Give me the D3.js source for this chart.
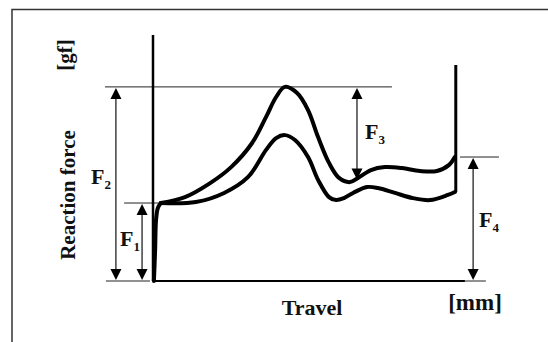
<!DOCTYPE html>
<html>
<head>
<meta charset="utf-8">
<script src="https://cdn.jsdelivr.net/npm/d3@7"></script>
<style>
  body { margin: 0; background: #fff; }
  svg text { font-family: "Liberation Serif", "Times New Roman", serif; fill: #111; }
</style>
</head>
<body>
<div id="graphsvg"></div>
<script>
// travel in % of full stroke, force in % of axis height (schematic, no ticks)
var travel_rise = [0.3, 0.7, 1.0, 1.6, 2.6];
var force_rise = [0, 12.6, 24.8, 29.7, 31.7];

var travel_press = [2.6, 10.5, 18.8, 25.7, 32.6, 37.2, 40.5, 43.4, 47.4, 51.0, 54.3, 57.9, 61.2, 64.8, 67.4, 71.7, 76.3, 81.9, 87.8, 93.4, 97.4, 99.3];
var force_press = [31.7, 34.1, 39.8, 46.3, 56.1, 66.7, 74.8, 78.9, 76.4, 69.5, 58.5, 48.0, 41.9, 40.2, 41.9, 45.1, 46.3, 45.9, 44.7, 44.7, 47.2, 50.4];

var travel_return = [2.6, 14.1, 23.4, 31.3, 37.2, 40.5, 43.4, 46.7, 51.0, 54.3, 57.9, 60.2, 62.8, 65.8, 70.4, 74.0, 79.6, 85.5, 91.1, 97.0, 99.3];
var force_return = [31.7, 32.1, 35.8, 42.3, 53.3, 58.1, 59.3, 57.3, 50.4, 41.1, 34.1, 32.9, 33.7, 35.8, 38.2, 37.8, 35.8, 33.7, 32.9, 35.0, 36.2];

// F1..F4 annotations
var f_names = ["F1", "F2", "F3", "F4"];
var f_x = [-3.6, -12.2, 67.1, 105.3];      // arrow position (travel)
var f_low = [0, 0, 40.9, 0];               // arrow bottom (force)
var f_high = [31.7, 78.9, 78.9, 50.4];     // arrow top (force)

function run_graph() {
	var width = 548;
	var height = 342;

	var svg = d3
		.select("#graphsvg")
		.append("svg")
		.attr("width", width)
		.attr("height", height);

	// frame
	svg.append("path")
		.attr("d", "M12,345 L12,9.5 L551,9.5")
		.attr("fill", "none")
		.attr("stroke", "#333")
		.style("stroke-width", 1.5);

	var x = d3.scaleLinear().domain([0, 100]).range([153, 457]);
	var y = d3.scaleLinear().domain([0, 100]).range([281, 35]);

	var line = d3.line()
		.x(function (d) { return x(d[0]); })
		.y(function (d) { return y(d[1]); })
		.curve(d3.curveCatmullRom.alpha(0.5));

	var straight = d3.line()
		.x(function (d) { return x(d[0]); })
		.y(function (d) { return y(d[1]); });

	// thin guide lines
	var guides = [
		[[-15.8, f_high[1]], [78.6, f_high[1]]],
		[[-9.5, f_high[0]], [2.3, f_high[0]]],
		[[101.0, f_high[3]], [113.8, f_high[3]]],
		[[-15.5, 0], [-1, 0]],
		[[102.6, 0], [109.5, 0]]
	];
	for (var i = 0; i < guides.length; i++) {
		svg.append("path")
			.attr("d", straight(guides[i]))
			.attr("stroke", "#222")
			.style("stroke-width", 1)
			.attr("fill", "none");
	}

	// axes
	svg.append("path")
		.attr("d", straight([[0, 100], [0, 0]]))
		.attr("stroke", "#000")
		.style("stroke-width", 2.5);
	svg.append("path")
		.attr("d", straight([[0, 0], [102.6, 0]]))
		.attr("stroke", "#000")
		.style("stroke-width", 2);
	// end of stroke
	svg.append("path")
		.attr("d", straight([[99.6, 87.8], [99.6, force_return[force_return.length - 1]]]))
		.attr("stroke", "#000")
		.style("stroke-width", 3);

	// curves
	function zip(a, b) {
		return a.map(function (v, k) { return [v, b[k]]; });
	}
	var curves = [zip(travel_rise, force_rise), zip(travel_press, force_press), zip(travel_return, force_return)];
	for (var c = 0; c < curves.length; c++) {
		svg.append("path")
			.attr("d", line(curves[c]))
			.attr("fill", "none")
			.attr("stroke", "#000")
			.attr("stroke-linejoin", "round")
			.attr("stroke-linecap", "round")
			.style("stroke-width", 4);
	}

	// double arrows
	function arrow_head(px, py, dir) {
		// dir = -1 points up, 1 points down
		var hw = 5.5, hh = 11;
		return "M" + px + "," + py + " L" + (px - hw) + "," + (py - dir * hh) + " L" + (px + hw) + "," + (py - dir * hh) + " Z";
	}
	for (var j = 0; j < f_names.length; j++) {
		var ax = x(f_x[j]);
		var y_top = y(f_high[j]) + 1;
		var y_bot = y(f_low[j]) - 1;
		svg.append("line")
			.attr("x1", ax).attr("x2", ax)
			.attr("y1", y_top + 6).attr("y2", y_bot - 6)
			.attr("stroke", "#111")
			.style("stroke-width", 1.2);
		svg.append("path").attr("d", arrow_head(ax, y_top, -1)).attr("fill", "#000");
		svg.append("path").attr("d", arrow_head(ax, y_bot, 1)).attr("fill", "#000");
	}

	// F labels
	var label_pos = [[120, 246], [91, 184], [365, 139], [479, 227]];
	for (var k = 0; k < f_names.length; k++) {
		var t = svg.append("text")
			.attr("x", label_pos[k][0])
			.attr("y", label_pos[k][1])
			.style("font-weight", "bold")
			.style("font-size", "22px");
		t.append("tspan").text(f_names[k].charAt(0));
		t.append("tspan").text(f_names[k].charAt(1))
			.attr("dy", 5)
			.style("font-size", "13px");
	}

	// axis titles
	svg.append("text")
		.text("Travel")
		.attr("x", 312)
		.attr("y", 315)
		.attr("text-anchor", "middle")
		.style("font-weight", "bold")
		.style("font-size", "22px");
	svg.append("text")
		.text("[mm]")
		.attr("x", 475)
		.attr("y", 310)
		.attr("text-anchor", "middle")
		.style("font-weight", "bold")
		.style("font-size", "23px");
	svg.append("text")
		.text("Reaction force")
		.attr("transform", "translate(75,195) rotate(-90)")
		.attr("text-anchor", "middle")
		.style("font-weight", "bold")
		.style("font-size", "21px");
	svg.append("text")
		.text("[gf]")
		.attr("transform", "translate(72,55) rotate(-90)")
		.attr("text-anchor", "middle")
		.style("font-weight", "bold")
		.style("font-size", "21px");
}

run_graph();
</script>
</body>
</html>
